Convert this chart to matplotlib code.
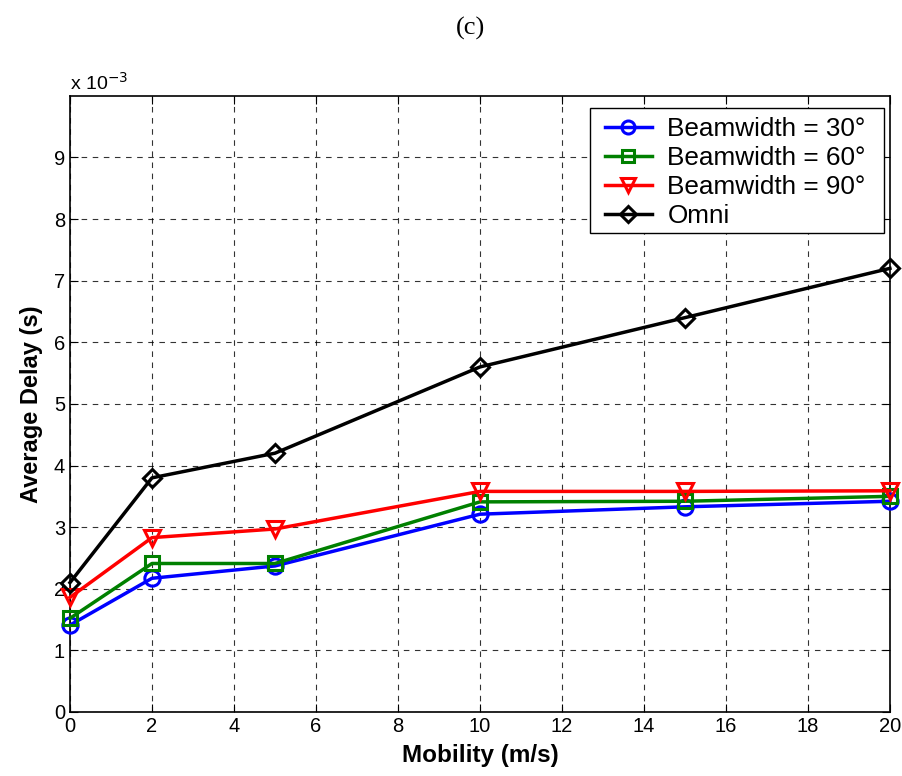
import numpy as np
import matplotlib.pyplot as plt
from matplotlib.patches import Rectangle
from matplotlib.ticker import FuncFormatter

mobility = [0, 2, 5, 10, 15, 20]
bw30 = [1.41e-3, 2.17e-3, 2.37e-3, 3.21e-3, 3.33e-3, 3.42e-3]
bw60 = [1.52e-3, 2.41e-3, 2.41e-3, 3.41e-3, 3.42e-3, 3.50e-3]
bw90 = [1.86e-3, 2.83e-3, 2.97e-3, 3.58e-3, 3.58e-3, 3.59e-3]
omni = [2.10e-3, 3.80e-3, 4.20e-3, 5.60e-3, 6.40e-3, 7.20e-3]

labels = ['Beamwidth = 30°', 'Beamwidth = 60°', 'Beamwidth = 90°', 'Omni']
COLORS = ['#0000ff', '#008000', '#ff0000', '#000000']
MARKERS = ['o', 's', 'v', 'D']
SIZES = [11, 10, 12, 9]

plt.rcParams['font.family'] = ['Liberation Sans', 'DejaVu Sans']

fig = plt.figure(figsize=(9.03, 7.76), dpi=100)
ax = fig.add_axes([0.0775, 0.0825, 0.908, 0.794])

for ys, lab, c, m, s in zip([bw30, bw60, bw90, omni], labels, COLORS, MARKERS, SIZES):
    ax.plot(mobility, ys, color=c, marker=m, markersize=s, markerfacecolor='none',
            markeredgewidth=2.2, linewidth=2.5, label=lab, clip_on=False, zorder=3)

ax.set_xlim(0, 20)
ax.set_ylim(0, 10e-3)
ax.set_xticks(np.arange(0, 21, 2))
ax.set_yticks(np.arange(0, 10e-3, 1e-3))
ax.yaxis.set_major_formatter(FuncFormatter(lambda v, _: f"{v * 1e3:.0f}"))
ax.tick_params(direction='in', top=True, right=True, labelsize=14.5, length=6)
for sp in ax.spines.values():
    sp.set_linewidth(1.2)

ax.grid(True, linestyle=(0, (5, 5)), color='black', linewidth=0.8, alpha=0.8)

ax.set_xlabel('Mobility (m/s)', fontsize=17.5, fontweight='bold', labelpad=6)
ax.set_ylabel('Average Delay (s)', fontsize=17, fontweight='bold', labelpad=8)
ax.text(0.0, 1.003, 'x 10$^{-3}$', transform=ax.transAxes, fontsize=14,
        ha='left', va='bottom')

# legend box drawn separately so the padding matches the MATLAB-style frame
box = Rectangle((0.634, 0.7776), 0.3587, 0.2029, transform=ax.transAxes,
                facecolor='white', edgecolor='black', linewidth=1.0, zorder=4)
ax.add_patch(box)
leg = ax.legend(loc='upper right', bbox_to_anchor=(0.9707, 0.965), borderaxespad=0,
                fontsize=18.8, labelspacing=0.19, handlelength=1.8, handletextpad=0.6,
                markerscale=0.85, frameon=False, borderpad=0)
leg.set_zorder(5)

fig.text(0.521, 0.963, '(c)', fontsize=19, ha='center', va='center',
         family=['Liberation Serif', 'DejaVu Serif'])

fig.savefig('out.png', dpi=100)
